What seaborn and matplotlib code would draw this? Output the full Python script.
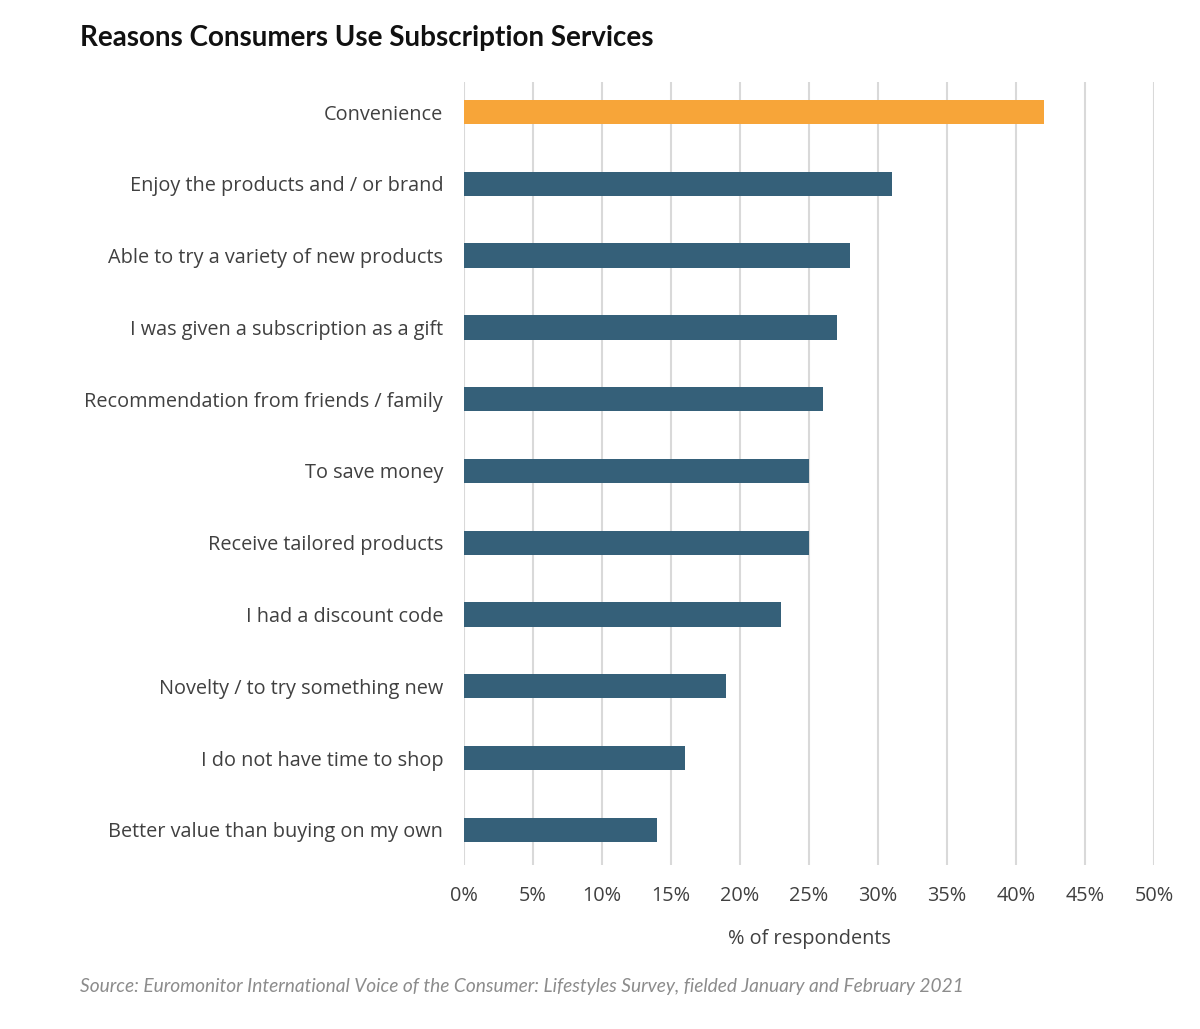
import matplotlib
matplotlib.use("Agg")
import matplotlib.pyplot as plt
import seaborn as sns
import pandas as pd
from matplotlib.ticker import FuncFormatter, MultipleLocator

categories = [
    "Convenience",
    "Enjoy the products and / or brand",
    "Able to try a variety of new products",
    "I was given a subscription as a gift",
    "Recommendation from friends / family",
    "To save money",
    "Receive tailored products",
    "I had a discount code",
    "Novelty / to try something new",
    "I do not have time to shop",
    "Better value than buying on my own",
]
values = [42, 31, 28, 27, 26, 25, 25, 23, 19, 16, 14]
highlight = ["yes"] + ["no"] * 10

df = pd.DataFrame({"reason": categories, "pct": values, "hl": highlight})

sns.set_theme(style="white")
plt.rcParams["font.family"] = ["Open Sans", "DejaVu Sans"]

fig = plt.figure(figsize=(12, 10.29), dpi=100)
ax = fig.add_axes([0.3867, 0.1594, 0.575, 0.7609])

sns.barplot(data=df, x="pct", y="reason", hue="hl",
            palette={"yes": "#F7A539", "no": "#356079"}, saturation=1,
            width=0.34, legend=False, ax=ax, zorder=3,
            edgecolor="none")

ax.set_xlim(0, 50)
ax.set_ylim(10.49, -0.42)
ax.xaxis.set_major_locator(MultipleLocator(5))
ax.xaxis.set_major_formatter(FuncFormatter(lambda v, p: f"{int(v)}%"))
ax.grid(axis="x", color="#D9D9D9", linewidth=1.5, zorder=0)
ax.grid(axis="y", visible=False)
for s in ax.spines.values():
    s.set_visible(False)
ax.tick_params(axis="both", length=0, labelsize=14.3, labelcolor="#404040")
ax.tick_params(axis="x", pad=15)
ax.tick_params(axis="y", pad=15)
ax.set_ylabel("")
ax.set_xlabel("% of respondents", fontsize=14.3, color="#404040", labelpad=17)

fig.text(0.0667, 0.963, "Reasons Consumers Use Subscription Services",
         fontsize=20, fontweight="bold", color="#111111", va="center",
         family=["Lato", "DejaVu Sans"])
fig.text(0.0667, 0.041,
         "Source: Euromonitor International Voice of the Consumer: Lifestyles Survey, fielded January and February 2021",
         fontsize=13.8, style="italic", color="#8C8C8C", va="center",
         family=["Lato", "DejaVu Sans"])

fig.savefig("out.png", dpi=100, facecolor="white")
